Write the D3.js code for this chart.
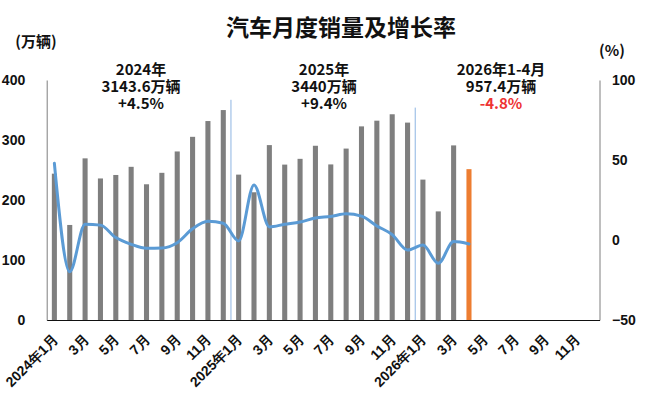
<!DOCTYPE html>
<html><head><meta charset="utf-8">
<script src="https://cdn.jsdelivr.net/npm/d3@7"></script>
<style>
html,body{margin:0;padding:0;background:#fff;}
svg{display:block;font-family:"Noto Sans CJK SC","Noto Sans",sans-serif;font-weight:bold;}
</style></head>
<body><svg id="c" width="647" height="404"></svg>
<script>
// ---- data ----
const categories = [
  "2024年1月","2月","3月","4月","5月","6月","7月","8月","9月","10月","11月","12月",
  "2025年1月","2月","3月","4月","5月","6月","7月","8月","9月","10月","11月","12月",
  "2026年1月","2月","3月","4月","5月","6月","7月","8月","9月","10月","11月","12月"
];
const sales = [
  243.9,158.4,269.4,235.9,241.7,255.3,226.2,245.3,280.9,305.3,331.6,349.9,
  242.3,212.9,291.5,259.0,268.6,290.4,259.3,285.7,322.7,332.2,342.9,329.0,
  234.0,181.0,291.0,251.4
];
const growth = [
  47.9,-19.9,9.9,9.3,1.5,-2.7,-5.2,-5.0,-1.7,7.0,11.7,10.5,
  -0.6,34.4,8.2,9.8,11.2,13.8,14.7,16.4,14.9,8.8,3.4,-6.2,
  -3.2,-14.6,-1.0,-2.5
];
const leftTicks = [0,100,200,300,400];
const rightTicks = [-50,0,50,100];
const summaryYears = ["2024年","2025年","2026年1-4月"];
const summaryTotals = ["3143.6万辆","3440万辆","957.4万辆"];
const summaryRates = ["+4.5%","+9.4%","-4.8%"];
const highlightIndex = 27;
const yearBreaks = [12,24];

// ---- layout ----
const svg = d3.select("#c");
const L = 46.7, R = 599.5, T = 80, B = 320;
const x = d3.scaleBand().domain(d3.range(categories.length)).range([L,R]).paddingInner(0.67).paddingOuter(0.335);
const yL = d3.scaleLinear().domain([0,400]).range([B,T]);
const yR = d3.scaleLinear().domain([-50,100]).range([B,T]);
const cx = i => x(i) + x.bandwidth()/2;

// title & units
svg.append("text").attr("x",341).attr("y",26).attr("text-anchor","middle")
  .attr("dominant-baseline","central").attr("font-size",23).attr("fill","#111").text("汽车月度销量及增长率");
svg.append("text").attr("x",36).attr("y",40).attr("text-anchor","middle")
  .attr("dominant-baseline","central").attr("font-size",15).attr("fill","#111").text("(万辆)");
svg.append("text").attr("x",612).attr("y",49).attr("text-anchor","middle")
  .attr("dominant-baseline","central").attr("font-size",15).attr("fill","#111").text("(%)");

// year separators
const sepTop = [367, 354];
yearBreaks.forEach((b,k)=>{
  const xs = x.step()*b + L;
  svg.append("line").attr("x1",xs).attr("x2",xs).attr("y1",yL(sepTop[k])).attr("y2",B)
    .attr("stroke","#8db4e2").attr("stroke-width",1);
});

// bars
svg.append("g").selectAll("rect").data(sales).join("rect")
  .attr("x",(d,i)=>x(i)).attr("width",x.bandwidth())
  .attr("y",d=>yL(d)).attr("height",d=>yL(0)-yL(d))
  .attr("fill",(d,i)=>i===highlightIndex?"#ed7d31":"#7f7f7f");

// line
const line = d3.line().x((d,i)=>cx(i)).y(d=>yR(d)).curve(d3.curveMonotoneX);
svg.append("path").datum(growth).attr("d",line).attr("fill","none")
  .attr("stroke","#5b9bd5").attr("stroke-width",3).attr("stroke-linejoin","round").attr("stroke-linecap","round");

// axes
const gl = svg.append("g").attr("transform",`translate(${L},0)`)
  .call(d3.axisLeft(yL).tickValues(leftTicks).tickSize(0).tickSizeOuter(0).tickPadding(21.5));
gl.select(".domain").attr("stroke","#7f7f7f");
gl.selectAll("text").attr("font-size",14).attr("font-family",null).attr("fill","#111");

const gr = svg.append("g").attr("transform",`translate(${R},0)`)
  .call(d3.axisRight(yR).tickValues(rightTicks).tickSize(0).tickSizeOuter(0).tickPadding(12.5));
gr.select(".domain").attr("stroke","#7f7f7f");
gr.selectAll("text").attr("font-size",14).attr("font-family",null).attr("fill","#111");

const gb = svg.append("g").attr("transform",`translate(0,${B})`)
  .call(d3.axisBottom(x).tickValues(d3.range(0,categories.length,2)).tickFormat(i=>categories[i]).tickSize(0).tickSizeOuter(0));
gb.select(".domain").attr("stroke","#111");
gb.selectAll("text").attr("font-size",14).attr("font-family",null).attr("fill","#111")
  .attr("text-anchor","end").attr("y",0).attr("dy","0.35em")
  .attr("transform","translate(1,17) rotate(-45)");

// summaries
const sumX = [141, 324, 501];
const rowY = [68, 85, 102];
summaryYears.forEach((t,k)=>{
  const rows = [[t,"#111"],[summaryTotals[k],"#111"],[summaryRates[k], summaryRates[k].startsWith("-") ? "#ee3333" : "#111"]];
  rows.forEach((r,j)=>{
    svg.append("text").attr("font-size",15).attr("text-anchor","middle").attr("fill",r[1])
      .attr("x",sumX[k]).attr("y",rowY[j]).attr("dominant-baseline","central").text(r[0]);
  });
});
</script></body></html>
